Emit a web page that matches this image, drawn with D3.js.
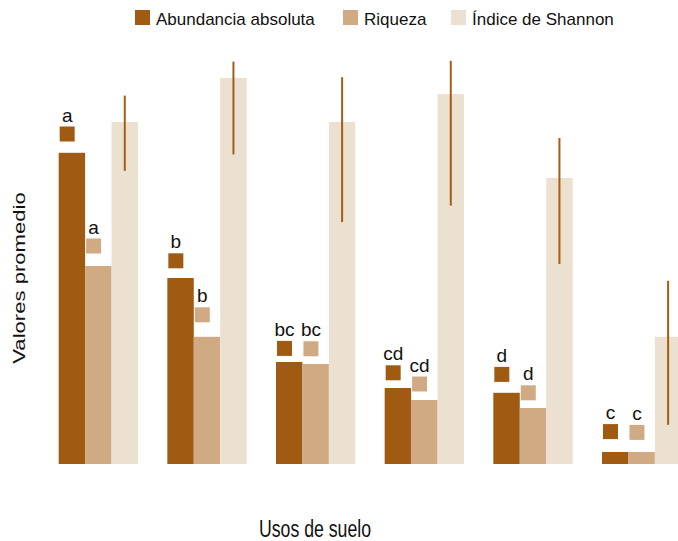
<!DOCTYPE html>
<html>
<head>
<meta charset="utf-8">
<script src="https://cdn.jsdelivr.net/npm/d3@7"></script>
<style>
    body { margin: 0; background: #fff; }
    text { font-family: "Liberation Sans", Arial, sans-serif; fill: #111; }
</style>
</head>
<body>
<script>
//grouped bar chart: abundancia, riqueza y Shannon por uso de suelo

//land use groups (no tick labels shown in the figure)
var usos = ["Uso 1", "Uso 2", "Uso 3", "Uso 4", "Uso 5", "Uso 6"];

//series names
var series = ["Abundancia absoluta", "Riqueza", "Índice de Shannon"];

//mean values per series
var abundancia = [7.78, 4.65, 2.55, 1.90, 1.78, 0.30];
var riqueza = [4.95, 3.18, 2.50, 1.60, 1.40, 0.30];
var shannon = [8.55, 9.65, 8.55, 9.25, 7.15, 3.18];

//error range for Shannon
var shannonLow = [7.33, 7.74, 6.05, 6.46, 5.00, 0.98];
var shannonHigh = [9.21, 10.06, 9.67, 10.08, 8.15, 4.58];

//marker squares above abundance and richness bars
var abundanciaMark = [8.25, 5.08, 2.89, 2.28, 2.24, 0.81];
var riquezaMark = [5.45, 3.73, 2.88, 2.00, 1.78, 0.79];

//significance letters
var abundanciaLetra = ["a", "b", "bc", "cd", "d", "c"];
var riquezaLetra = ["a", "b", "bc", "cd", "d", "c"];

(function(){

window.onload = setChart();

function setChart(){
    var width = 678,
        height = 541;

    var svg = d3.select("body")
        .append("svg")
        .attr("width", width)
        .attr("height", height);

    var colors = d3.scaleOrdinal()
        .domain(series)
        .range(["#a05a11", "#cfaa83", "#ece0d0"]);

    //outer band per land use, runs past the right edge like the original
    var x0 = d3.scaleBand()
        .domain(usos)
        .range([0, 740])
        .paddingInner(0.27)
        .paddingOuter(0.54);

    //inner band per series
    var x1 = d3.scaleBand()
        .domain(series)
        .range([0, x0.bandwidth()]);

    var y = d3.scaleLinear()
        .domain([0, 10])
        .range([464, 64]);

    //build rows from the arrays
    var rows = usos.map(function(u, i){
        return {
            uso: u,
            vals: [
                {s: series[0], v: abundancia[i], m: abundanciaMark[i], l: abundanciaLetra[i]},
                {s: series[1], v: riqueza[i], m: riquezaMark[i], l: riquezaLetra[i]},
                {s: series[2], v: shannon[i], lo: shannonLow[i], hi: shannonHigh[i]}
            ]
        };
    });

    var groups = svg.selectAll(".grupo")
        .data(rows)
        .enter()
        .append("g")
        .attr("class", "grupo")
        .attr("transform", function(d){ return "translate(" + x0(d.uso) + ",0)"; });

    //bars
    groups.selectAll("rect.bar")
        .data(function(d){ return d.vals; })
        .enter()
        .append("rect")
        .attr("class", "bar")
        .attr("x", function(d){ return x1(d.s); })
        .attr("width", x1.bandwidth())
        .attr("y", function(d){ return y(d.v); })
        .attr("height", function(d){ return y(0) - y(d.v); })
        .attr("fill", function(d){ return colors(d.s); });

    //marker squares + letters (only abundance and richness)
    var marked = groups.selectAll("g.mark")
        .data(function(d){ return d.vals.filter(function(v){ return v.m != null; }); })
        .enter()
        .append("g")
        .attr("class", "mark");

    var sq = 15;
    marked.append("rect")
        .attr("x", function(d){ return x1(d.s) + 1; })
        .attr("y", function(d){ return y(d.m) - sq / 2; })
        .attr("width", sq)
        .attr("height", sq)
        .attr("fill", function(d){ return colors(d.s); });

    marked.append("text")
        .attr("x", function(d){ return x1(d.s) + 1 + sq / 2; })
        .attr("y", function(d){ return y(d.m) - sq / 2 - 5; })
        .attr("text-anchor", "middle")
        .style("font-size", "19px")
        .text(function(d){ return d.l; });

    //Shannon error lines
    groups.selectAll("line.err")
        .data(function(d){ return d.vals.filter(function(v){ return v.lo != null; }); })
        .enter()
        .append("line")
        .attr("class", "err")
        .attr("x1", function(d){ return x1(d.s) + x1.bandwidth() / 2; })
        .attr("x2", function(d){ return x1(d.s) + x1.bandwidth() / 2; })
        .attr("y1", function(d){ return y(d.hi); })
        .attr("y2", function(d){ return y(d.lo); })
        .attr("stroke", "#a55d14")
        .attr("stroke-width", 2);

    //legend
    var legX = [135, 343, 451];
    var legend = svg.selectAll(".leg")
        .data(series)
        .enter()
        .append("g")
        .attr("class", "leg")
        .attr("transform", function(d, i){ return "translate(" + legX[i] + ",10)"; });

    legend.append("rect")
        .attr("width", 15)
        .attr("height", 15)
        .attr("fill", function(d){ return colors(d); });

    legend.append("text")
        .attr("x", 21)
        .attr("y", 15)
        .style("font-size", "17px")
        .text(function(d){ return d; });

    //axis titles (the original is stretched vertically)
    svg.append("text")
        .attr("transform", "translate(25,278) scale(1,1.3) rotate(-90)")
        .attr("text-anchor", "middle")
        .style("font-size", "17px")
        .text("Valores promedio");

    svg.append("text")
        .attr("transform", "translate(315,537) scale(1,1.3)")
        .attr("text-anchor", "middle")
        .style("font-size", "17.7px")
        .text("Usos de suelo");
};

})();
</script>
</body>
</html>
